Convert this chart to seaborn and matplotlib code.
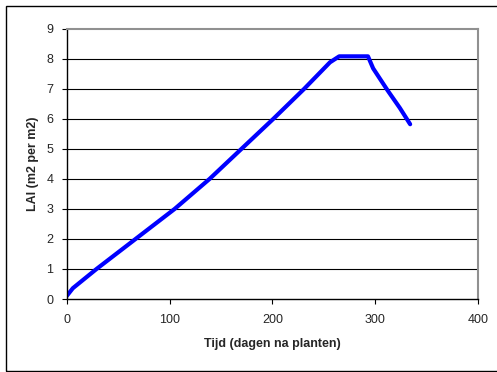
import matplotlib
matplotlib.use("Agg")
import matplotlib.pyplot as plt
import seaborn as sns
import pandas as pd
from matplotlib.patches import Rectangle

# LAI development over time after planting
days = [0, 6, 29, 67, 105, 139, 170, 201, 231, 256, 265, 293, 298, 312, 324, 334]
lai = [0.1, 0.36, 1.0, 2.0, 3.0, 4.0, 5.0, 6.0, 7.0, 7.88, 8.08, 8.08, 7.68, 6.95, 6.36, 5.82]

x_ticks = [0, 100, 200, 300, 400]
y_ticks = list(range(0, 10))

sns.set_style("white")
plt.rcParams["font.family"] = ["Liberation Sans", "DejaVu Sans"]

df = pd.DataFrame({"dag": days, "lai": lai})

fig = plt.figure(figsize=(4.97, 3.72), dpi=100)
ax = fig.add_axes([0.1342, 0.1962, 0.8276, 0.7266])

# outer chart frame
fig.patches.append(Rectangle((6 / 497, 1.3 / 372), 1.0, 1 - 6.8 / 372,
                             transform=fig.transFigure, fill=False,
                             edgecolor="black", linewidth=1.0))

sns.lineplot(data=df, x="dag", y="lai", ax=ax, color="#0000FF",
             linewidth=3.0, estimator=None, sort=False)

ax.set_xlim(0, 400)
ax.set_ylim(0, 9)
ax.set_xticks(x_ticks)
ax.set_yticks(y_ticks)
ax.set_xticklabels([str(t) for t in x_ticks], fontsize=9)
ax.set_yticklabels([str(t) for t in y_ticks], fontsize=9)

for y in y_ticks[1:-1]:
    ax.axhline(y, color="black", linewidth=0.8, zorder=0)

for side in ("left", "bottom"):
    ax.spines[side].set_color("black")
    ax.spines[side].set_linewidth(1.0)
for side in ("top", "right"):
    ax.spines[side].set_color("#909090")
    ax.spines[side].set_linewidth(1.5)

ax.tick_params(axis="both", which="major", direction="out", length=3.5,
               width=0.8, color="black", left=True, bottom=True)
ax.tick_params(axis="y", pad=6)
ax.tick_params(axis="x", pad=7)

ax.set_xlabel("Tijd (dagen na planten)", fontsize=9, fontweight="bold")
ax.set_ylabel("LAI (m2 per m2)", fontsize=9, fontweight="bold")
ax.xaxis.set_label_coords(0.5, -0.168)
ax.xaxis.label.set_va("center")
ax.yaxis.set_label_coords(-0.083, 0.5)
ax.yaxis.label.set_va("center")

fig.savefig("out.png", dpi=100)
